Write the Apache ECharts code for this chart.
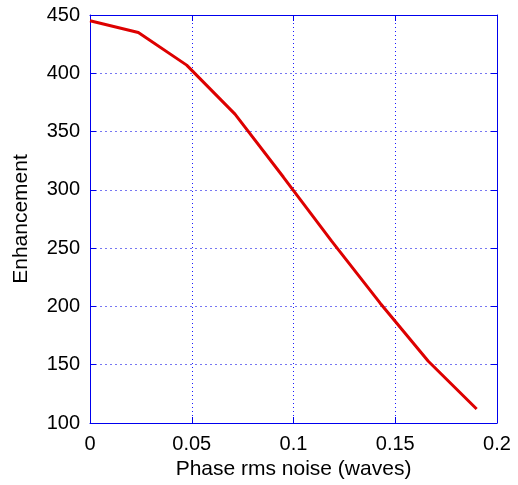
<!DOCTYPE html>
<html><head><meta charset="utf-8">
<script src="https://cdn.jsdelivr.net/npm/echarts@6/dist/echarts.min.js"></script>
<style>html,body{margin:0;padding:0;background:#fff}#c{width:518px;height:485px}</style>
</head><body><div id="c"></div>
<script>
const noise = [0, 0.02375, 0.0475, 0.07125, 0.095, 0.11875, 0.1425, 0.16625, 0.19];
const enhancement = [445, 435, 407, 365, 311, 256, 203, 153, 112];
const xTicks = [0, 0.05, 0.1, 0.15, 0.2];
const yTicks = [100, 150, 200, 250, 300, 350, 400, 450];

const font = 'Liberation Sans, Arial, Helvetica, sans-serif';
const blue = '#0000ee';
const chart = echarts.init(document.getElementById('c'));
const tick = {show: true, inside: true, length: 6, lineStyle: {color: blue, width: 1}};
chart.setOption({
  animation: false,
  grid: {left: 90, top: 15, right: 21, bottom: 62, containLabel: false},
  xAxis: [{
    type: 'value', min: 0, max: 0.2, interval: 0.05, position: 'bottom',
    name: 'Phase rms noise (waves)', nameLocation: 'middle', nameGap: 34,
    nameTextStyle: {color: '#000', fontSize: 21, fontFamily: font},
    axisLine: {show: true, onZero: false, lineStyle: {color: blue, width: 1}},
    axisTick: tick,
    axisLabel: {color: '#000', fontSize: 20, fontFamily: font, margin: 11,
      formatter: v => String(xTicks.find(t => Math.abs(t - v) < 1e-9) ?? v)},
    splitLine: {show: true, lineStyle: {color: '#1a1aff', type: [1, 3], width: 1}}
  }, {
    type: 'value', min: 0, max: 0.2, interval: 0.05, position: 'top',
    axisLine: {show: true, onZero: false, lineStyle: {color: blue, width: 1}},
    axisTick: tick, axisLabel: {show: false}, splitLine: {show: false}
  }],
  yAxis: [{
    type: 'value', min: 100, max: 450, interval: 50, position: 'left',
    name: 'Enhancement', nameLocation: 'middle', nameGap: 58,
    nameTextStyle: {color: '#000', fontSize: 21, fontFamily: font},
    axisLine: {show: true, onZero: false, lineStyle: {color: blue, width: 1}},
    axisTick: tick,
    axisLabel: {color: '#000', fontSize: 20, fontFamily: font, margin: 10,
      formatter: v => String(yTicks.find(t => t === v) ?? v)},
    splitLine: {show: true, lineStyle: {color: '#7777f2', type: [2, 3], width: 1}}
  }, {
    type: 'value', min: 100, max: 450, interval: 50, position: 'right',
    axisLine: {show: true, onZero: false, lineStyle: {color: blue, width: 1}},
    axisTick: tick, axisLabel: {show: false}, splitLine: {show: false}
  }],
  series: [{
    type: 'line', xAxisIndex: 0, yAxisIndex: 0,
    data: noise.map((x, i) => [x, enhancement[i]]),
    showSymbol: false, symbol: 'none',
    lineStyle: {color: '#dd0000', width: 3},
    z: 5
  }]
});
</script></body></html>
